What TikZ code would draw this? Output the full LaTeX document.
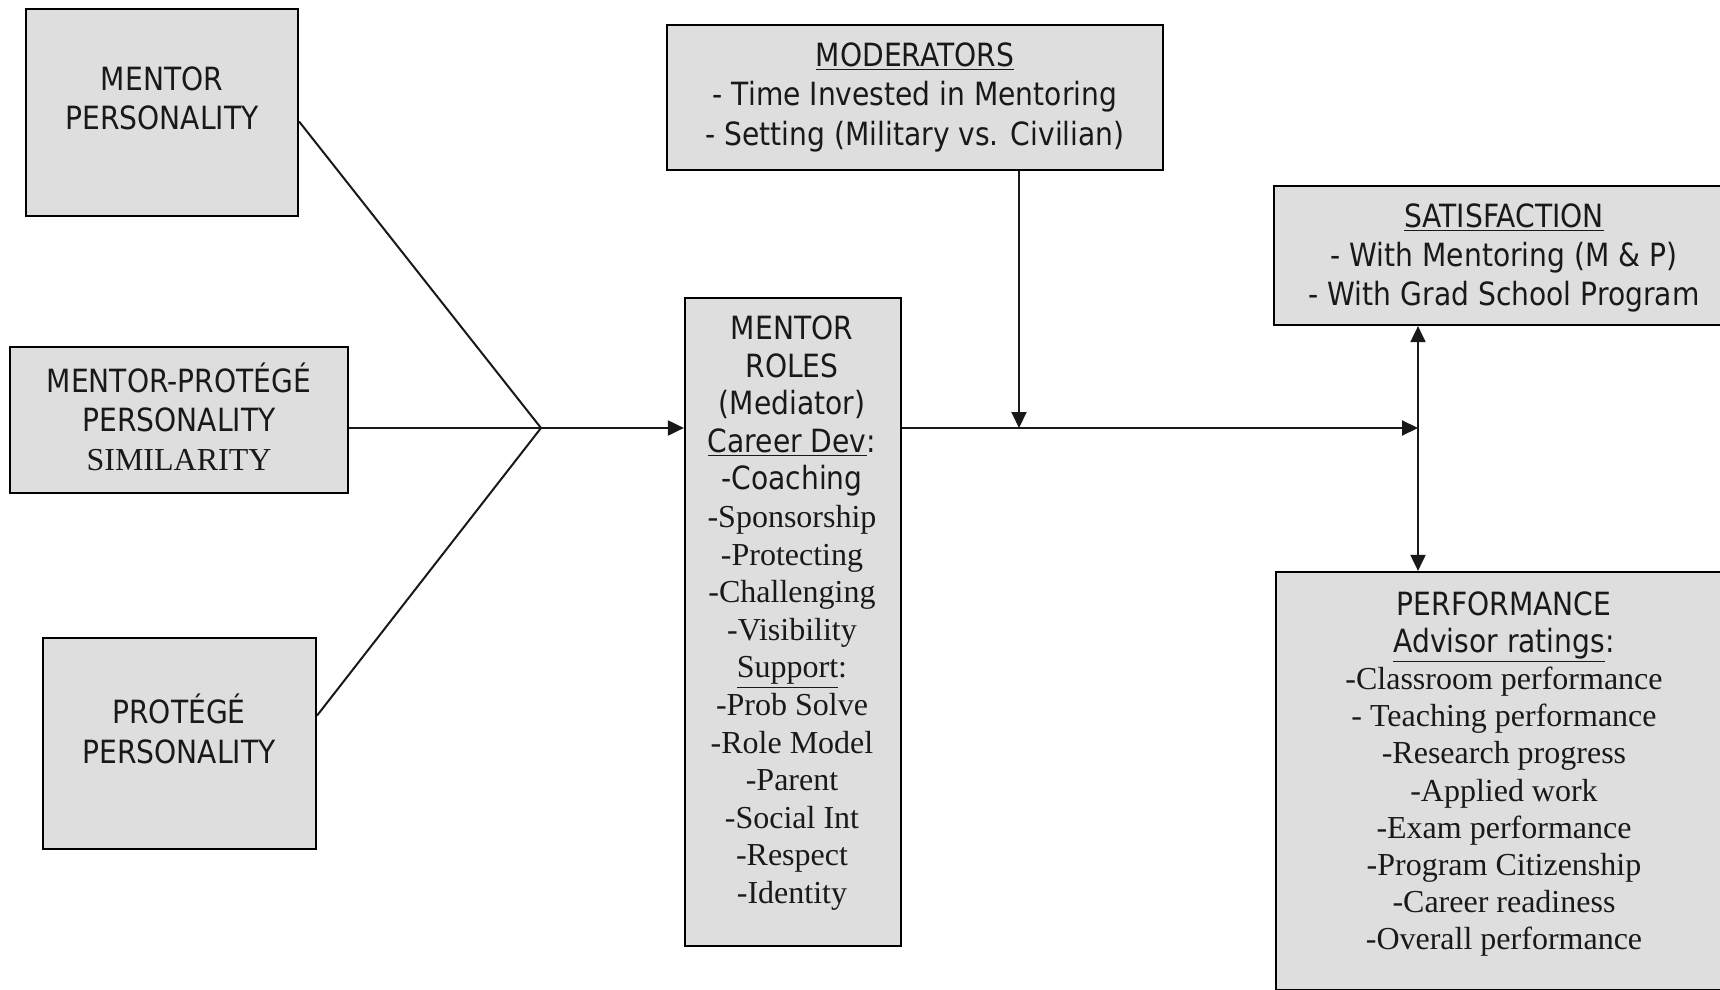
\documentclass[tikz,border=0pt]{standalone}
\usepackage{fontspec}
\setmainfont{Liberation Serif}
\newfontfamily\tah[FakeStretch=0.88]{DejaVu Sans}
\usetikzlibrary{arrows.meta}
\tikzset{
  box/.style={draw=black, line width=1.1pt, fill=black!13, inner sep=0pt},
  txt/.style={align=center, inner sep=0pt, text=black!90},
  ln/.style={line width=1pt, draw=black!90},
  tip/.style={-{Triangle[length=8pt,width=7.5pt]}},
}
\newcommand{\sz}{\fontsize{16}{19.5}\selectfont}
\newcommand{\szr}{\fontsize{16}{18.7}\selectfont}
\begin{document}
\begin{tikzpicture}[x=0.5pt,y=-0.5pt]
\useasboundingbox (0,0) rectangle (1720,990);
% boxes
\node[box, minimum width=136pt, minimum height=103.5pt] (mp) at (162,112.5) {};
\node[box, minimum width=169pt, minimum height=73pt] (mps) at (179,420) {};
\node[box, minimum width=136.5pt, minimum height=105.5pt] (pp) at (179.5,743.5) {};
\node[box, minimum width=248pt, minimum height=72.5pt] (mod) at (915,97.5) {};
\node[box, minimum width=108pt, minimum height=324pt] (roles) at (793,622) {};
\node[box, minimum width=225pt, minimum height=69.5pt] (sat) at (1499,255.5) {};
\node[box, minimum width=224pt, minimum height=209pt] (perf) at (1500,781) {};
% texts
\node[txt, font=\tah\sz] (mpt) at (162,98) {MENTOR\\PERSONALITY};
\node[txt, font=\tah\sz] (mpst) at (179,417) {MENTOR-PROTÉGÉ\\PERSONALITY\\{\rmfamily SIMILARITY}};
\node[txt, font=\tah\fontsize{16}{20}\selectfont] (ppt) at (179,729) {PROTÉGÉ\\PERSONALITY};
\node[txt, font=\tah\fontsize{16}{19.75}\selectfont] (modt) at (915,97) {\underline{MODERATORS}\\- Time Invested in Mentoring\\- Setting (Military vs. Civilian)};
\node[txt, font=\rmfamily\fontsize{16}{18.8}\selectfont] (rolest) at (792,613) {{\tah MENTOR}\\{\tah ROLES}\\{\tah (Mediator)}\\{\tah\underline{Career Dev}:}\\{\tah -Coaching}\\-Sponsorship\\-Protecting\\-Challenging\\-Visibility\\\underline{Support}:\\-Prob Solve\\-Role Model\\-Parent\\-Social Int\\-Respect\\-Identity};
\node[txt, font=\tah\sz] (satt) at (1504,258) {\underline{SATISFACTION}\\- With Mentoring (M \& P)\\- With Grad School Program};
\node[txt, font=\rmfamily\fontsize{16}{18.6}\selectfont] (perft) at (1504,774) {{\tah PERFORMANCE}\\{\tah\underline{Advisor ratings}:}\\-Classroom performance\\- Teaching performance\\-Research progress\\-Applied work\\-Exam performance\\-Program Citizenship\\-Career readiness\\-Overall performance};
% connector points
\coordinate (j) at (541,428);
\coordinate (k) at (1019,428);
\coordinate (v) at (1418,428);
% connectors
\draw[ln] ([yshift=-4.5pt]mp.east) -- (j);
\draw[ln] (mps.east |- j) -- (j);
\draw[ln] ([yshift=14pt]pp.east) -- (j);
\draw[ln, tip] (j) -- (roles.west |- j);
\draw[ln, tip] (roles.east |- j) -- (v);
\draw[ln, tip] (mod.south -| k) -- (k);
\draw[ln, {Triangle[length=8pt,width=7.5pt]}-{Triangle[length=8pt,width=7.5pt]}] (sat.south -| v) -- (perf.north -| v);
\end{tikzpicture}
\end{document}
